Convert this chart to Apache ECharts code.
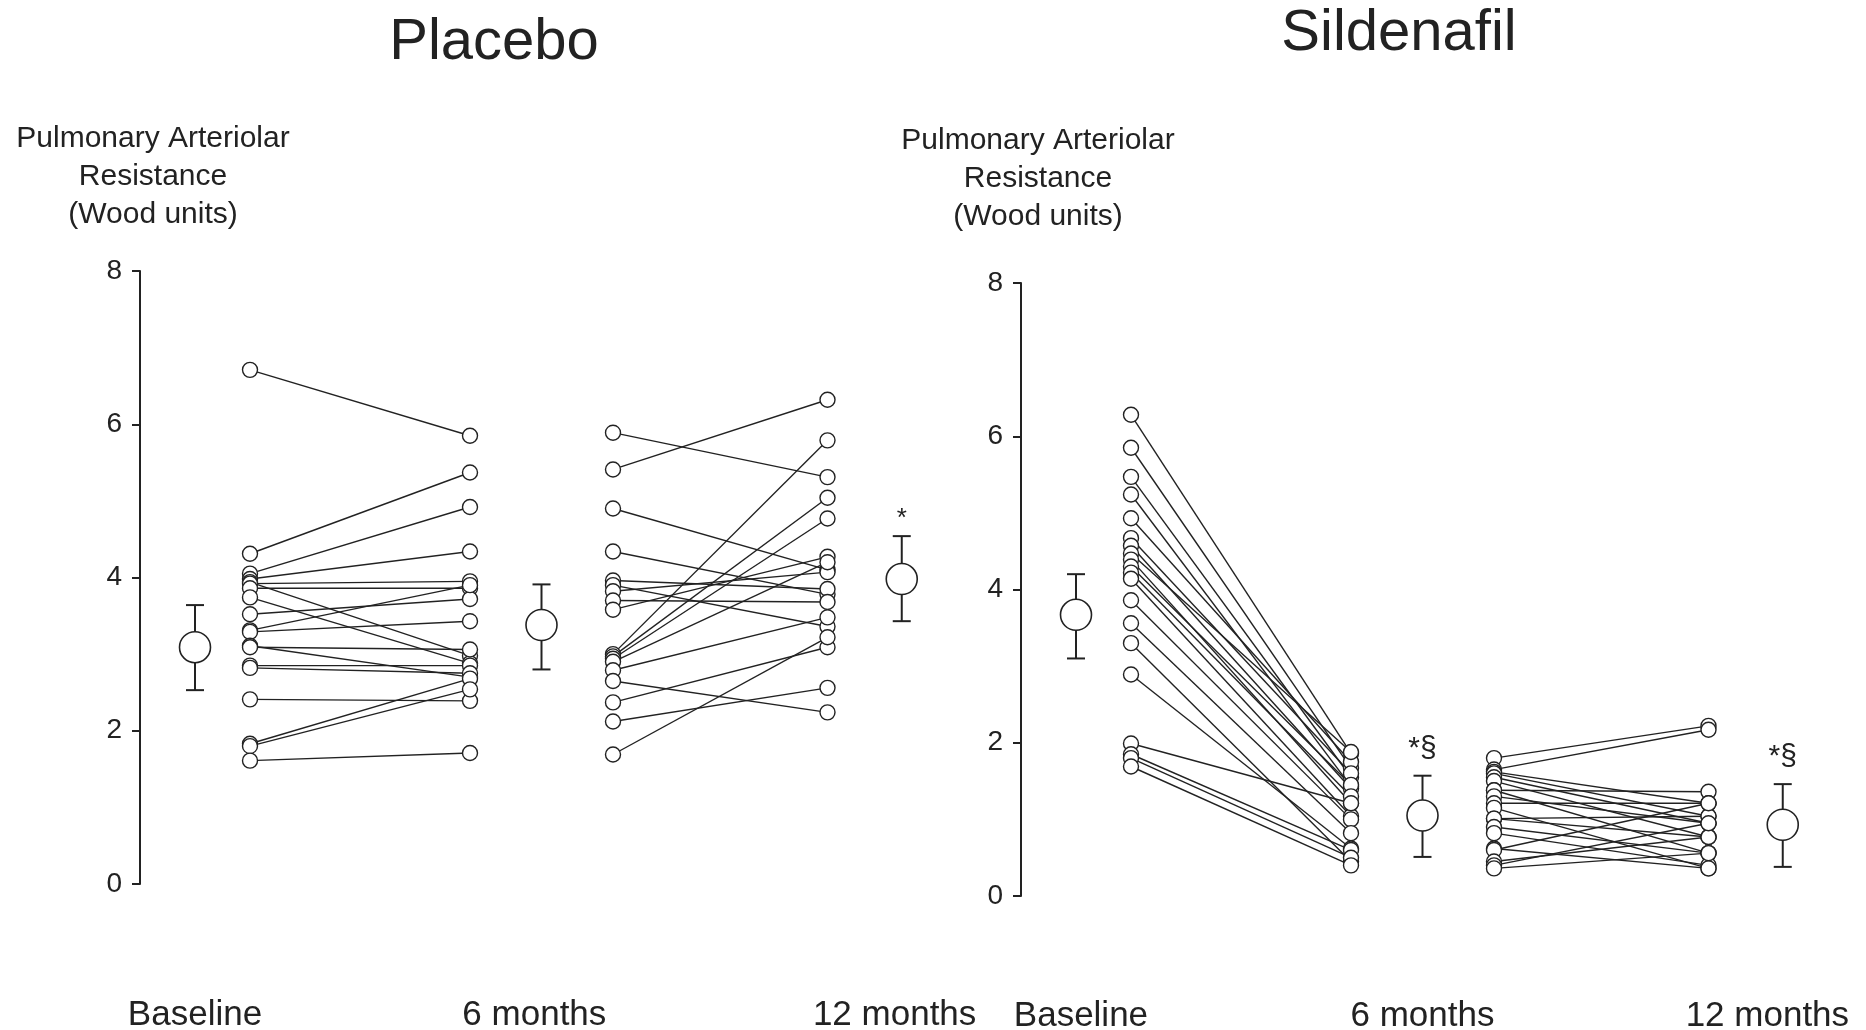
<!DOCTYPE html>
<html><head><meta charset="utf-8">
<script src="https://cdn.jsdelivr.net/npm/echarts@6/dist/echarts.min.js"></script>
<style>html,body{margin:0;padding:0;background:#fff}#c{width:1866px;height:1030px}</style>
</head><body><div id="c"></div>
<script>
// ---------- text ----------
const panelTitles = ['Placebo', 'Sildenafil'];
const timeLabels = ['Baseline', '6 months', '12 months'];
const yAxisTitle = 'Pulmonary Arteriolar\nResistance\n(Wood units)';

// ---------- x slots (hidden axis units) ----------
const slotMeanBase = 1, slotBase = 2, slotSix = 6, slotSixMean = 7.3, slotSixB = 8.6, slotTwelve = 12.5, slotTwelveMean = 13.85;
const placeboLabelSlots = [1.0, 7.17, 13.72];
const sildLabelSlots = [1.09, 7.3, 13.57];

// ---------- Placebo ----------
const placeboBaseline = [6.71, 4.31, 4.05, 3.98, 3.94, 3.92, 3.86, 3.74, 3.52, 3.31, 3.29, 3.11, 3.09, 2.85, 2.82, 2.41, 1.83, 1.80, 1.61];
const placebo6mA      = [5.85, 5.37, 4.92, 4.34, 2.98, 3.95, 3.86, 2.88, 3.72, 3.90, 3.43, 2.70, 3.06, 2.85, 2.75, 2.39, 2.68, 2.54, 1.71];
const placebo6mB      = [5.89, 5.41, 4.90, 4.34, 3.96, 3.90, 3.82, 3.70, 3.58, 3.00, 2.97, 2.94, 2.90, 2.79, 2.65, 2.37, 2.12, 1.69];
const placebo12m      = [5.31, 6.32, 4.10, 3.78, 3.85, 3.36, 4.07, 3.68, 4.27, 5.79, 5.04, 4.77, 4.20, 3.48, 2.24, 3.09, 2.56, 3.22];
const placeboMean  = [3.09, 3.38, 3.98];
const placeboUpper = [3.64, 3.91, 4.54];
const placeboLower = [2.53, 2.80, 3.43];
const placeboMarks = ['', '', '*'];

// ---------- Sildenafil ----------
const sildBaseline = [6.28, 5.85, 5.47, 5.24, 4.93, 4.67, 4.57, 4.47, 4.39, 4.30, 4.22, 4.14, 3.86, 3.56, 3.30, 2.89, 1.99, 1.85, 1.80, 1.69];
const sild6mA      = [1.86, 1.67, 1.55, 1.43, 1.75, 1.60, 1.40, 1.88, 1.21, 1.45, 1.30, 1.04, 1.00, 0.82, 0.45, 0.62, 1.21, 0.60, 0.50, 0.40];
const sild6mB      = [1.80, 1.65, 1.62, 1.60, 1.55, 1.50, 1.38, 1.38, 1.30, 1.21, 1.15, 1.01, 1.01, 0.90, 0.82, 0.62, 0.60, 0.45, 0.40, 0.36];
const sild12m      = [2.22, 2.17, 1.21, 1.04, 0.95, 0.77, 1.36, 0.56, 0.95, 1.21, 0.36, 1.04, 0.77, 0.56, 0.40, 0.36, 1.21, 0.77, 0.95, 0.56];
const sildMean  = [3.67, 1.05, 0.93];
const sildUpper = [4.20, 1.57, 1.46];
const sildLower = [3.10, 0.51, 0.38];
const sildMarks = ['', '*\u00a7', '*\u00a7'];

const FONT = "'Liberation Sans', Arial, Helvetica, sans-serif";
const INK = '#222';
const meanSlots = [slotMeanBase, slotSixMean, slotTwelveMean];

function panel(idx, b, s6a, s6b, s12, mean, up, lo, marks) {
  const segs = [];
  b.forEach((v, i) => segs.push([slotBase, v, slotSix, s6a[i]]));
  s6b.forEach((v, i) => segs.push([slotSixB, v, slotTwelve, s12[i]]));
  const pts = [];
  b.forEach(v => pts.push([slotBase, v]));
  s6a.forEach(v => pts.push([slotSix, v]));
  s6b.forEach(v => pts.push([slotSixB, v]));
  s12.forEach(v => pts.push([slotTwelve, v]));
  const errs = mean.map((m, i) => [meanSlots[i], m, lo[i], up[i]]);
  const means = mean.map((m, i) => [meanSlots[i], m]);
  return [
    { type: 'custom', xAxisIndex: idx, yAxisIndex: idx, z: 1, silent: true,
      data: segs,
      renderItem(p, api) {
        const a = api.coord([api.value(0), api.value(1)]);
        const c = api.coord([api.value(2), api.value(3)]);
        return { type: 'line', shape: { x1: a[0], y1: a[1], x2: c[0], y2: c[1] },
                 style: { stroke: INK, lineWidth: 1.4 } };
      } },
    { type: 'scatter', xAxisIndex: idx, yAxisIndex: idx, z: 3, silent: true,
      symbol: 'circle', symbolSize: 15, data: pts,
      itemStyle: { color: '#fff', borderColor: INK, borderWidth: 1.4, opacity: 1 } },
    { type: 'custom', xAxisIndex: idx, yAxisIndex: idx, z: 2, silent: true,
      data: errs,
      renderItem(p, api) {
        const x = api.value(0);
        const h = api.coord([x, api.value(3)]);
        const l = api.coord([x, api.value(2)]);
        const cap = 9;
        const st = { stroke: INK, lineWidth: 2 };
        const ch = [
          { type: 'line', shape: { x1: h[0], y1: h[1], x2: l[0], y2: l[1] }, style: st },
          { type: 'line', shape: { x1: h[0] - cap, y1: h[1], x2: h[0] + cap, y2: h[1] }, style: st },
          { type: 'line', shape: { x1: l[0] - cap, y1: l[1], x2: l[0] + cap, y2: l[1] }, style: st }
        ];
        const mk = marks[p.dataIndex];
        if (mk) ch.push({ type: 'text', x: h[0], y: h[1] - (mk.length === 1 ? 4 : 12),
          style: { text: mk, fontSize: mk.length === 1 ? 26 : 30, fontFamily: FONT, fill: INK, align: 'center', verticalAlign: 'bottom' } });
        return { type: 'group', children: ch };
      } },
    { type: 'scatter', xAxisIndex: idx, yAxisIndex: idx, z: 4, silent: true,
      symbol: 'circle', symbolSize: 31, data: means,
      itemStyle: { color: '#fff', borderColor: INK, borderWidth: 1.6, opacity: 1 } }
  ];
}

const grids = [
  { left: 140, top: 271, width: 797.5, height: 613, outerBoundsMode: 'none', containLabel: false },
  { left: 1021, top: 283, width: 797.5, height: 613, outerBoundsMode: 'none', containLabel: false }
];
const labelSlotSets = [placeboLabelSlots, sildLabelSlots];
const labelMargins = [114, 103];
const xAxes = grids.map((g, i) => ({
  type: 'value', gridIndex: i, min: 0, max: 14.5,
  axisLine: { show: false }, axisTick: { show: false }, splitLine: { show: false },
  axisLabel: { customValues: labelSlotSets[i], margin: labelMargins[i], fontSize: 35, fontFamily: FONT, color: INK,
    formatter: v => timeLabels[labelSlotSets[i].indexOf(v)] || '' }
}));
const yAxes = grids.map((g, i) => ({
  type: 'value', gridIndex: i, min: 0, max: 8, interval: 2,
  axisLine: { show: true, lineStyle: { color: INK, width: 2 } },
  axisTick: { show: true, length: 8, lineStyle: { color: INK, width: 2 } },
  splitLine: { show: false },
  axisLabel: { fontSize: 28, fontFamily: FONT, color: INK, margin: 18 }
}));

const option = {
  backgroundColor: '#fff',
  animation: false,
  grid: grids,
  xAxis: xAxes,
  yAxis: yAxes,
  graphic: [
    { type: 'text', x: 494, y: 43, style: { text: panelTitles[0], fontSize: 58, fontFamily: FONT, fill: INK, align: 'center', verticalAlign: 'middle' } },
    { type: 'text', x: 1399, y: 34, style: { text: panelTitles[1], fontSize: 58, fontFamily: FONT, fill: INK, align: 'center', verticalAlign: 'middle' } },
    { type: 'text', x: 153, y: 177, style: { text: yAxisTitle, fontSize: 30, lineHeight: 38, fontFamily: FONT, fill: INK, align: 'center', verticalAlign: 'middle' } },
    { type: 'text', x: 1038, y: 179, style: { text: yAxisTitle, fontSize: 30, lineHeight: 38, fontFamily: FONT, fill: INK, align: 'center', verticalAlign: 'middle' } }
  ],
  series: [
    ...panel(0, placeboBaseline, placebo6mA, placebo6mB, placebo12m, placeboMean, placeboUpper, placeboLower, placeboMarks),
    ...panel(1, sildBaseline, sild6mA, sild6mB, sild12m, sildMean, sildUpper, sildLower, sildMarks)
  ]
};
const chart = echarts.init(document.getElementById('c'), null, { renderer: 'canvas' });
chart.setOption(option);
</script>
</body></html>
